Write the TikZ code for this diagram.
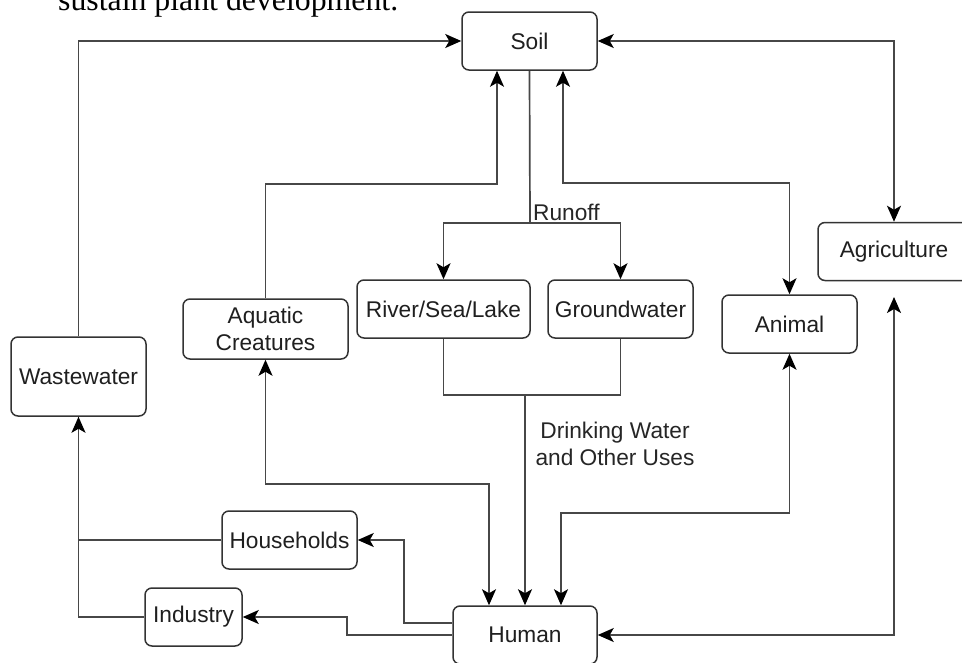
\documentclass[tikz,border=0pt]{standalone}
\usepackage{fontspec}
\setmainfont{Liberation Sans}
\newfontfamily\serifcap{Liberation Serif}
\usetikzlibrary{arrows.meta}
\begin{document}
\begin{tikzpicture}[x=1pt,y=-1pt,
  box/.style={draw=black!80, line width=1.5pt, rounded corners=7pt, fill=white,
    text=black!88, inner sep=0pt, align=center,
    font=\fontsize{22.7}{27}\selectfont},
  conn/.style={draw=black!72, line width=1.7pt},
  tip/.style={},
  arr/.style={conn, -{Stealth[length=16pt,width=14pt,inset=4pt,fill=black,color=black]}},
  barr/.style={conn, {Stealth[length=16pt,width=14pt,inset=4pt,fill=black,color=black]}-{Stealth[length=16pt,width=14pt,inset=4pt,fill=black,color=black]}},
  lbl/.style={text=black!85, font=\fontsize{22.7}{27}\selectfont, inner sep=0pt, align=center}]
\useasboundingbox (0,0) rectangle (962,662);
\clip (0,0) rectangle (962,662);
\fill[white] (0,0) rectangle (962,662);

\node[anchor=base west, inner sep=0pt, font=\serifcap\fontsize{31.8}{36}\selectfont, text=black] (cap) at (58,10) {sustain plant development.};

\node[box, minimum width=135, minimum height=58] (Soil) at (529.5,41) {Soil};
\node[box, minimum width=152, minimum height=58] (Agri) at (894,251.5) {Agriculture};
\node[box, minimum width=135, minimum height=58] (Animal) at (789.5,324) {Animal};
\node[box, minimum width=173, minimum height=58] (River) at (443.5,309) {River/Sea/Lake};
\node[box, minimum width=145, minimum height=58] (Ground) at (620.5,309) {Groundwater};
\node[box, minimum width=165, minimum height=60] (Aquatic) at (265.5,329) {Aquatic\\Creatures};
\node[box, minimum width=135, minimum height=79] (Waste) at (78.5,376.5) {Wastewater};
\node[box, minimum width=135, minimum height=58] (House) at (289.5,540) {Households};
\node[box, minimum width=97, minimum height=58] (Industry) at (193.5,617) {Industry};
\node[box, minimum width=144, minimum height=58] (Human) at (525,635) {Human};

\coordinate (sa) at ([xshift=-32.5pt]Soil.south);
\coordinate (sb) at ([xshift=33.5pt]Soil.south);
\coordinate (run) at (530,223);
\coordinate (j) at (525,395);
\coordinate (h1) at ([xshift=-36pt]Human.north);
\coordinate (h3) at ([xshift=36pt]Human.north);
\coordinate (ag) at (894,297);
\coordinate (hw1) at ([yshift=12pt]Human.west);

% Wastewater -> Soil
\draw[arr] (Waste.north) |- (Soil.west);
% Soil <-> Agriculture
\draw[barr] (Soil.east) -| (Agri.north);
% Aquatic -> Soil
\draw[arr] (Aquatic.north) |- ([yshift=-113pt]sa) -- (sa);
% Soil <-> Animal
\draw[barr] (sb) -- ++(0,112) -| (Animal.north);
% Runoff
\draw[conn] (Soil.south) -- (run);
\draw[arr] (run) -| (River.north);
\draw[arr] (run) -| (Ground.north);
\node[lbl, anchor=south west] (runlbl) at (533,221) {Runoff};
% Water -> Human
\draw[conn] (River.south) |- (j) -| (Ground.south);
\draw[arr] (j) -- (Human.north);
\node[lbl] (dw) at (615,444) {Drinking Water\\and Other Uses};
% Aquatic <-> Human
\draw[barr] (Aquatic.south) -- ++(0,124) -| (h1);
% Animal <-> Human
\draw[barr] (Animal.south) -- ++(0,159) -| (h3);
% Agriculture <-> Human
\draw[barr] (ag) |- (Human.east);
% Human -> Households / Industry
\draw[arr] (hw1) -- ++(-48,0) |- (House.east);
\draw[arr] (Human.west) -- ++(-105,0) |- (Industry.east);
% Households / Industry -> Wastewater
\draw[conn] (Industry.west) -| (Waste.south);
\draw[arr] (House.west) -| (Waste.south);
\end{tikzpicture}
\end{document}
